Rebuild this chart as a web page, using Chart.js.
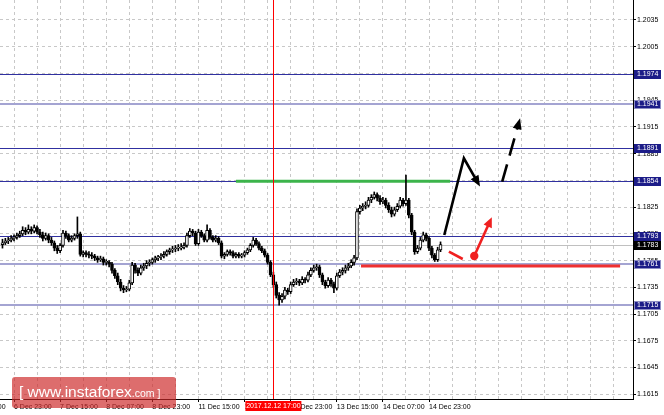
<!DOCTYPE html>
<html><head><meta charset="utf-8">
<script src="https://cdn.jsdelivr.net/npm/chart.js@4"></script>
<style>html,body{margin:0;padding:0;background:#fff;}canvas{display:block}</style>
</head><body>
<canvas id="c" width="664" height="415"></canvas>
<script>
// ---- data ----
const firstCandleIndex = -4; // candle 0 = 6 Dec 23:00 (H1 candles)
const opens = [
1.1783,1.1785,1.1787,1.1788,1.1790,1.1791,1.1793,1.1795,1.1799,1.1797,
1.1800,1.1798,1.1802,1.1797,1.1794,1.1790,1.1793,1.1788,1.1785,1.1779,
1.1776,1.1782,1.1796,1.1793,1.1788,1.1790,1.1793,1.1795,1.1772,1.1774,
1.1772,1.1771,1.1770,1.1768,1.1766,1.1767,1.1763,1.1763,1.1761,1.1754,
1.1748,1.1741,1.1734,1.1732,1.1733,1.1740,1.1760,1.1754,1.1751,1.1757,
1.1759,1.1762,1.1763,1.1766,1.1768,1.1769,1.1770,1.1772,1.1775,1.1777,
1.1778,1.1779,1.1779,1.1780,1.1782,1.1793,1.1798,1.1796,1.1784,1.1797,
1.1793,1.1788,1.1799,1.1791,1.1788,1.1790,1.1785,1.1770,1.1772,1.1775,
1.1774,1.1770,1.1772,1.1770,1.1771,1.1774,1.1777,1.1782,1.1788,1.1784,
1.1779,1.1776,1.1771,1.1763,1.1749,1.1738,1.1726,1.1721,1.1725,1.1732,
1.1730,1.1738,1.1741,1.1742,1.1740,1.1744,1.1743,1.1749,1.1754,1.1757,
1.1758,1.1749,1.1741,1.1737,1.1743,1.1739,1.1734,1.1748,1.1752,1.1754,
1.1757,1.1759,1.1763,1.1768,1.1820,1.1824,1.1826,1.1827,1.1833,1.1836,
1.1839,1.1835,1.1831,1.1833,1.1827,1.1822,1.1817,1.1822,1.1826,1.1833,
1.1829,1.1833,1.1816,1.1797,1.1775,1.1779,1.1788,1.1794,1.1790,1.1779,
1.1771,1.1766,1.1777];
const highs = [
1.1789,1.1790,1.1791,1.1793,1.1794,1.1796,1.1798,1.1803,1.1802,1.1805,
1.1803,1.1805,1.1804,1.1800,1.1797,1.1796,1.1795,1.1791,1.1787,1.1782,
1.1784,1.1799,1.1798,1.1795,1.1793,1.1795,1.1814,1.1797,1.1776,1.1776,
1.1775,1.1774,1.1772,1.1770,1.1770,1.1769,1.1766,1.1765,1.1763,1.1756,
1.1751,1.1744,1.1737,1.1736,1.1743,1.1763,1.1762,1.1757,1.1760,1.1762,
1.1765,1.1766,1.1768,1.1770,1.1771,1.1773,1.1775,1.1777,1.1779,1.1781,
1.1782,1.1783,1.1784,1.1785,1.1796,1.1801,1.1800,1.1798,1.1800,1.1799,
1.1795,1.1805,1.1801,1.1793,1.1793,1.1792,1.1787,1.1774,1.1777,1.1777,
1.1776,1.1774,1.1774,1.1773,1.1776,1.1779,1.1784,1.1791,1.1790,1.1786,
1.1781,1.1778,1.1773,1.1765,1.1752,1.1741,1.1729,1.1728,1.1735,1.1734,
1.1741,1.1744,1.1745,1.1744,1.1747,1.1746,1.1752,1.1757,1.1760,1.1761,
1.1760,1.1751,1.1743,1.1746,1.1745,1.1741,1.1751,1.1755,1.1757,1.1760,
1.1762,1.1766,1.1771,1.1823,1.1827,1.1829,1.1831,1.1836,1.1839,1.1842,
1.1841,1.1838,1.1836,1.1835,1.1830,1.1825,1.1825,1.1829,1.1836,1.1835,
1.1861,1.1835,1.1818,1.1799,1.1782,1.1791,1.1797,1.1796,1.1792,1.1781,
1.1773,1.1780,1.1786];
const lows = [
1.1779,1.1783,1.1784,1.1786,1.1787,1.1789,1.1791,1.1793,1.1794,1.1795,
1.1795,1.1796,1.1795,1.1791,1.1787,1.1788,1.1785,1.1782,1.1776,1.1773,
1.1774,1.1780,1.1790,1.1786,1.1786,1.1788,1.1790,1.1770,1.1769,1.1769,
1.1768,1.1767,1.1765,1.1763,1.1764,1.1760,1.1760,1.1758,1.1751,1.1745,
1.1738,1.1731,1.1729,1.1730,1.1731,1.1738,1.1751,1.1748,1.1749,1.1754,
1.1756,1.1759,1.1761,1.1763,1.1765,1.1766,1.1768,1.1770,1.1772,1.1774,
1.1775,1.1776,1.1777,1.1778,1.1780,1.1791,1.1793,1.1782,1.1782,1.1791,
1.1786,1.1786,1.1789,1.1786,1.1786,1.1783,1.1768,1.1767,1.1770,1.1771,
1.1768,1.1768,1.1768,1.1768,1.1769,1.1772,1.1775,1.1780,1.1782,1.1777,
1.1774,1.1769,1.1761,1.1747,1.1735,1.1723,1.1715,1.1718,1.1722,1.1727,
1.1728,1.1736,1.1738,1.1737,1.1738,1.1740,1.1741,1.1747,1.1752,1.1754,
1.1746,1.1738,1.1734,1.1735,1.1736,1.1729,1.1732,1.1746,1.1749,1.1751,
1.1754,1.1757,1.1760,1.1766,1.1817,1.1821,1.1823,1.1825,1.1830,1.1834,
1.1832,1.1828,1.1829,1.1824,1.1819,1.1814,1.1815,1.1820,1.1824,1.1826,
1.1827,1.1813,1.1794,1.1772,1.1773,1.1777,1.1786,1.1787,1.1776,1.1768,
1.1764,1.1764,1.1775];
const closes = [
1.1785,1.1787,1.1788,1.1790,1.1791,1.1793,1.1795,1.1799,1.1797,1.1800,
1.1798,1.1802,1.1797,1.1794,1.1790,1.1793,1.1788,1.1785,1.1779,1.1776,
1.1782,1.1796,1.1793,1.1788,1.1790,1.1793,1.1795,1.1772,1.1774,1.1772,
1.1771,1.1770,1.1768,1.1766,1.1767,1.1763,1.1763,1.1761,1.1754,1.1748,
1.1741,1.1734,1.1732,1.1733,1.1740,1.1760,1.1754,1.1751,1.1757,1.1759,
1.1762,1.1763,1.1766,1.1768,1.1769,1.1770,1.1772,1.1775,1.1777,1.1778,
1.1779,1.1779,1.1780,1.1782,1.1793,1.1798,1.1796,1.1784,1.1797,1.1793,
1.1788,1.1799,1.1791,1.1788,1.1790,1.1785,1.1770,1.1772,1.1775,1.1774,
1.1770,1.1772,1.1770,1.1771,1.1774,1.1777,1.1782,1.1788,1.1784,1.1779,
1.1776,1.1771,1.1763,1.1749,1.1738,1.1726,1.1721,1.1725,1.1732,1.1730,
1.1738,1.1741,1.1742,1.1740,1.1744,1.1743,1.1749,1.1754,1.1757,1.1758,
1.1749,1.1741,1.1737,1.1743,1.1739,1.1734,1.1748,1.1752,1.1754,1.1757,
1.1759,1.1763,1.1768,1.1820,1.1824,1.1826,1.1827,1.1833,1.1836,1.1839,
1.1835,1.1831,1.1833,1.1827,1.1822,1.1817,1.1822,1.1826,1.1833,1.1829,
1.1833,1.1816,1.1797,1.1775,1.1779,1.1788,1.1794,1.1790,1.1779,1.1771,
1.1766,1.1777,1.1783];

const yTicks = [1.2035,1.2005,1.1975,1.1945,1.1915,1.1885,1.1855,1.1825,1.1795,1.1765,1.1735,1.1705,1.1675,1.1645,1.1615];
const xGridIndex = [-16,-8,0,8,16,24,32,40,48,56,64,72,80,88,96,104,112,120,128,136,144,152,160,168,176,184,192,200,208];
const xLabelIndex = [-16,0,16,32,48,64,80,96,112,128,144];
const xLabels = ['6 Dec 07:00','6 Dec 23:00','7 Dec 15:00','8 Dec 07:00','8 Dec 23:00','11 Dec 15:00','12 Dec 07:00','12 Dec 23:00','13 Dec 15:00','14 Dec 07:00','14 Dec 23:00'];

const darkLevels = [1.1974, 1.1891, 1.1854, 1.1793];
const lightLevels = [1.1941, 1.1761, 1.1715];
const currentPrice = 1.1783;
const markerIndex = 90;
const markerLabel = '2017.12.12 17:00';
const resistance = {price: 1.1854, from: 77.0, to: 151.3};
const support = {price: 1.1759, from: 120.4, to: 210.3};
const blackPath = [[149.3, 1.17937],[156.1, 1.18798],[161.7, 1.18480]];
const blackDashed = [[169.4, 1.18536],[175.6, 1.19247]];
const redSegment = [[150.9, 1.17750],[155.7, 1.17668]];
const redDot = [159.7, 1.17702];
const redArrowEnd = [165.8, 1.18136];
const watermark = ['[ www.instaforex', '.com ]'];

// ---- build ----
const idx = closes.map((_, k) => firstCandleIndex + k);
const wickData = idx.map((x, k) => ({x: x, y: [lows[k], highs[k]]}));
const bodyData = idx.map((x, k) => ({x: x, y: [opens[k], closes[k]]}));
const bodyColors = idx.map((_, k) => closes[k] >= opens[k] ? '#ffffff' : '#000000');
const labelMap = new Map(xLabelIndex.map((v, k) => [v, xLabels[k]]));
const FONT = 'Liberation Sans, Arial, sans-serif';

function arrowHead(ctx, x1, y1, x2, y2, len, half) {
  const a = Math.atan2(y2 - y1, x2 - x1);
  ctx.beginPath();
  ctx.moveTo(x2, y2);
  ctx.lineTo(x2 - len * Math.cos(a) + half * Math.sin(a), y2 - len * Math.sin(a) - half * Math.cos(a));
  ctx.lineTo(x2 - len * Math.cos(a) - half * Math.sin(a), y2 - len * Math.sin(a) + half * Math.cos(a));
  ctx.closePath();
  ctx.fill();
}
function shorten(x1, y1, x2, y2, d) {
  const L = Math.hypot(x2 - x1, y2 - y1);
  return [x2 - (x2 - x1) * d / L, y2 - (y2 - y1) * d / L];
}

const overlay = {
  id: 'overlay',
  beforeDatasetsDraw(chart) {
    const {ctx, chartArea: a, scales: {x, y}} = chart;
    ctx.save();
    let py = Math.round(y.getPixelForValue(currentPrice)) + 0.5;
    ctx.strokeStyle = '#c0c0c0'; ctx.lineWidth = 1;
    ctx.beginPath(); ctx.moveTo(a.left, py); ctx.lineTo(a.right, py); ctx.stroke();
    lightLevels.forEach(p => {
      const yy = Math.round(y.getPixelForValue(p));
      ctx.strokeStyle = '#a4a4d2'; ctx.lineWidth = 2;
      ctx.beginPath(); ctx.moveTo(a.left, yy); ctx.lineTo(a.right, yy); ctx.stroke();
    });
    darkLevels.forEach(p => {
      const yy = Math.round(y.getPixelForValue(p)) + 0.5;
      ctx.strokeStyle = '#3030a0'; ctx.lineWidth = 1;
      ctx.beginPath(); ctx.moveTo(a.left, yy); ctx.lineTo(a.right, yy); ctx.stroke();
    });
    ctx.strokeStyle = '#3cb44b'; ctx.lineWidth = 3;
    py = y.getPixelForValue(resistance.price);
    ctx.beginPath(); ctx.moveTo(x.getPixelForValue(resistance.from), py); ctx.lineTo(x.getPixelForValue(resistance.to), py); ctx.stroke();
    ctx.strokeStyle = '#f03030'; ctx.lineWidth = 3;
    py = y.getPixelForValue(support.price);
    ctx.beginPath(); ctx.moveTo(x.getPixelForValue(support.from), py); ctx.lineTo(x.getPixelForValue(support.to), py); ctx.stroke();
    ctx.restore();
  },
  afterDatasetsDraw(chart) {
    const {ctx, chartArea: a, scales: {x, y}} = chart;
    const P = pt => [x.getPixelForValue(pt[0]), y.getPixelForValue(pt[1])];
    ctx.save();
    const mx = Math.round(x.getPixelForValue(markerIndex)) + 0.5;
    ctx.strokeStyle = '#ff0000'; ctx.lineWidth = 1; ctx.setLineDash([]);
    ctx.beginPath(); ctx.moveTo(mx, a.top); ctx.lineTo(mx, a.bottom); ctx.stroke();
    ctx.strokeStyle = '#000'; ctx.fillStyle = '#000'; ctx.lineWidth = 2.6; ctx.lineJoin = 'miter'; ctx.lineCap = 'butt';
    const b = blackPath.map(P);
    const bEnd = shorten(b[1][0], b[1][1], b[2][0], b[2][1], 8);
    ctx.beginPath(); ctx.moveTo(b[0][0], b[0][1]); ctx.lineTo(b[1][0], b[1][1]); ctx.lineTo(bEnd[0], bEnd[1]); ctx.stroke();
    arrowHead(ctx, b[1][0], b[1][1], b[2][0], b[2][1], 11, 4.5);
    const d = blackDashed.map(P);
    const dEnd = shorten(d[0][0], d[0][1], d[1][0], d[1][1], 8);
    ctx.setLineDash([18, 9]);
    ctx.beginPath(); ctx.moveTo(d[0][0], d[0][1]); ctx.lineTo(dEnd[0], dEnd[1]); ctx.stroke();
    ctx.setLineDash([]);
    arrowHead(ctx, d[0][0], d[0][1], d[1][0], d[1][1], 11, 4.5);
    ctx.strokeStyle = '#f02020'; ctx.fillStyle = '#f02020'; ctx.lineWidth = 2.6;
    const r = redSegment.map(P);
    ctx.beginPath(); ctx.moveTo(r[0][0], r[0][1]); ctx.lineTo(r[1][0], r[1][1]); ctx.stroke();
    const rd = P(redDot), re = P(redArrowEnd);
    const reS = shorten(rd[0], rd[1], re[0], re[1], 8);
    ctx.beginPath(); ctx.moveTo(rd[0], rd[1]); ctx.lineTo(reS[0], reS[1]); ctx.stroke();
    arrowHead(ctx, rd[0], rd[1], re[0], re[1], 10, 4.5);
    ctx.beginPath(); ctx.arc(rd[0], rd[1], 4.2, 0, Math.PI * 2); ctx.fill();
    ctx.restore();
  },
  afterDraw(chart) {
    const {ctx, chartArea: a, scales: {x, y}} = chart;
    ctx.save();
    ctx.font = '7px ' + FONT;
    ctx.textBaseline = 'middle'; ctx.textAlign = 'left';
    const box = (p, fill, stroke) => {
      const yy = Math.round(y.getPixelForValue(p));
      ctx.fillStyle = fill; ctx.fillRect(a.right + 1, yy - 4, 27, 9);
      if (stroke) { ctx.strokeStyle = stroke; ctx.lineWidth = 1; ctx.strokeRect(a.right + 1.5, yy - 3.5, 26, 8); }
      ctx.fillStyle = '#fff'; ctx.fillText(p.toFixed(4), a.right + 4, yy + 0.5);
    };
    darkLevels.forEach(p => box(p, '#1c1c88'));
    lightLevels.forEach(p => box(p, '#1c1c88', '#8e8ec4'));
    box(currentPrice, '#000');
    const mx = x.getPixelForValue(markerIndex);
    ctx.fillStyle = '#ff0000'; ctx.fillRect(mx - 28, a.bottom + 2, 56, 10);
    ctx.fillStyle = '#fff'; ctx.textAlign = 'center';
    ctx.fillText(markerLabel, mx, a.bottom + 7.5);
    ctx.fillStyle = 'rgba(205,40,40,0.68)';
    const wx = 12, wy = 377, ww = 164, wh = 31, rr = 3;
    ctx.beginPath();
    ctx.moveTo(wx + rr, wy); ctx.lineTo(wx + ww - rr, wy); ctx.quadraticCurveTo(wx + ww, wy, wx + ww, wy + rr);
    ctx.lineTo(wx + ww, wy + wh - rr); ctx.quadraticCurveTo(wx + ww, wy + wh, wx + ww - rr, wy + wh);
    ctx.lineTo(wx + rr, wy + wh); ctx.quadraticCurveTo(wx, wy + wh, wx, wy + wh - rr);
    ctx.lineTo(wx, wy + rr); ctx.quadraticCurveTo(wx, wy, wx + rr, wy); ctx.closePath(); ctx.fill();
    ctx.fillStyle = '#fff'; ctx.textAlign = 'left'; ctx.textBaseline = 'alphabetic';
    ctx.font = '15.5px ' + FONT;
    ctx.fillText(watermark[0], 19, 397);
    const w0 = ctx.measureText(watermark[0]).width;
    ctx.font = '10.5px ' + FONT;
    ctx.fillText(watermark[1], 19 + w0, 397);
    ctx.restore();
  }
};

new Chart(document.getElementById('c'), {
  type: 'bar',
  data: {
    datasets: [
      {data: wickData, backgroundColor: '#000', barThickness: 1, grouped: false, order: 2},
      {data: bodyData, backgroundColor: bodyColors, borderColor: '#000', borderWidth: 1, borderSkipped: false, barThickness: 3, minBarLength: 1, grouped: false, order: 1}
    ]
  },
  options: {
    responsive: false, animation: false, devicePixelRatio: 1,
    layout: {padding: 0},
    plugins: {legend: {display: false}, tooltip: {enabled: false}},
    scales: {
      x: {
        type: 'linear', min: -4.858, max: 214.78, offset: false, bounds: 'data', position: 'bottom',
        afterBuildTicks: s => { s.ticks = xGridIndex.map(v => ({value: v})); },
        afterFit: s => { s.height = 16; s.paddingLeft = 0; s.paddingRight = 0; },
        ticks: {autoSkip: false, maxRotation: 0, minRotation: 0, align: 'start', padding: 1,
          font: {family: FONT, size: 7}, color: '#000',
          callback: v => labelMap.has(v) ? labelMap.get(v) : ''},
        grid: {color: '#c8c8c8', lineWidth: 1, tickLength: 3, offset: false, tickBorderDash: [],
          tickColor: c => (c.tick && labelMap.has(c.tick.value)) ? '#000' : 'rgba(0,0,0,0)'},
        border: {display: true, color: '#000', width: 1, dash: [3, 3]}
      },
      y: {
        type: 'linear', position: 'right', min: 1.16097, max: 1.20574, beginAtZero: false, bounds: 'data',
        afterBuildTicks: s => { s.ticks = yTicks.map(v => ({value: v})); },
        afterFit: s => { s.width = 31; s.paddingTop = 0; s.paddingBottom = 0; },
        ticks: {padding: 1, font: {family: FONT, size: 7}, color: '#000', callback: v => v.toFixed(4)},
        grid: {color: '#c8c8c8', lineWidth: 1, tickLength: 3, tickColor: '#000', tickBorderDash: []},
        border: {display: true, color: '#000', width: 1, dash: [3, 3]}
      }
    }
  },
  plugins: [overlay]
});
</script>
</body></html>
